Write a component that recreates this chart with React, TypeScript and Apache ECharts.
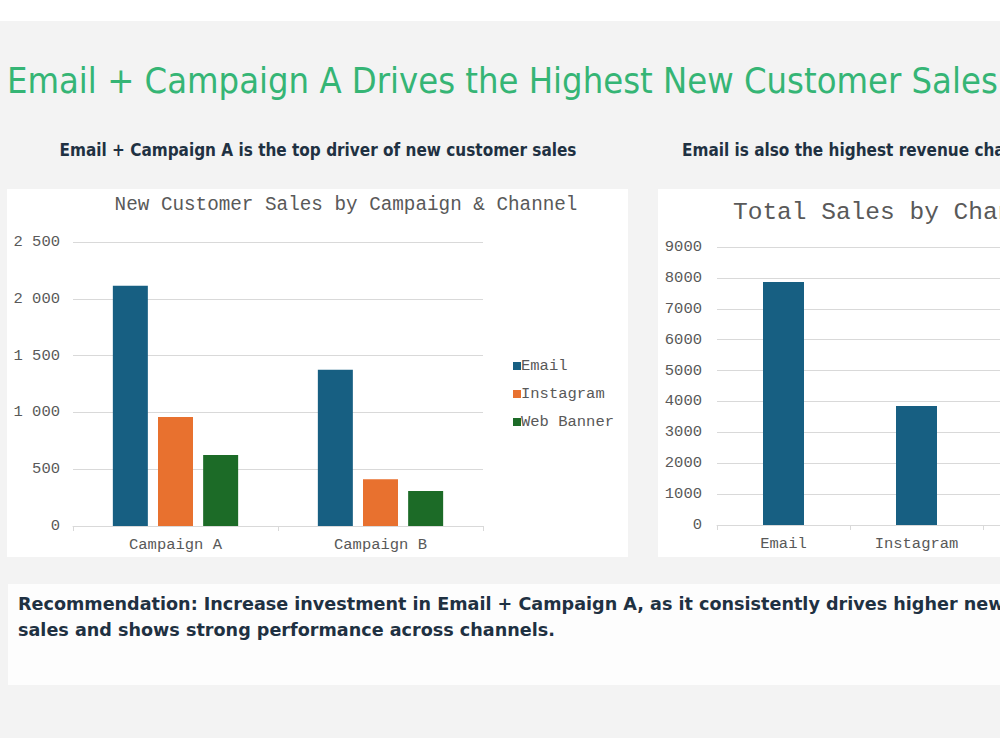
import React, { useEffect, useRef } from "react";
import * as echarts from "echarts";

// New customer sales, by campaign and channel
const campaigns = ["Campaign A", "Campaign B"];
const emailNew = [2115, 1375];
const instagramNew = [960, 412];
const webBannerNew = [625, 308];

// Total sales, by channel
const channels = ["Email", "Instagram", "Web Banner"];
const totalSales = [7870, 3850, 2900];

const pageTitle = "Email + Campaign A Drives the Highest New Customer Sales";
const leftHeading = "Email + Campaign A is the top driver of new customer sales";
const rightHeading = "Email is also the highest revenue channel";
const leftChartTitle = "New Customer Sales by Campaign & Channel";
const rightChartTitle = "Total Sales by Channel";
const recommendation = [
  "Recommendation: Increase investment in Email + Campaign A, as it consistently drives higher new customer",
  "sales and shows strong performance across channels.",
];

const BLUE = "#175f82";
const ORANGE = "#e8712f";
const GREEN = "#1c6b27";
const MONO = "'Liberation Mono', 'Courier New', monospace";
const CONDENSED = "'DejaVu Sans Condensed', 'DejaVu Sans', sans-serif";
const SANS = "'DejaVu Sans', sans-serif";
const AXIS_GRAY = "#d9d9d9";
const LABEL_GRAY = "#595959";
const HEADING = "#1f3142";

// Slide is wider than the visible window; the wrapper clips it at 1000px.
const SLIDE_W = 1200;

const spaced = (v: number) => String(v).replace(/\B(?=(\d{3})+(?!\d))/g, " ");

export default function App() {
  const ref = useRef<HTMLDivElement>(null);

  useEffect(() => {
    if (!ref.current) return;
    const chart = echarts.init(ref.current, null, { renderer: "svg" });

    const axisLabel = { fontFamily: MONO, fontSize: 15.5, color: LABEL_GRAY };

    chart.setOption({
      animation: false,
      backgroundColor: "#ffffff",
      graphic: [
        { type: "rect", z: -10, shape: { x: 0, y: 21, width: SLIDE_W, height: 717 }, style: { fill: "#f3f3f3" } },
        { type: "rect", z: -9, shape: { x: 7, y: 189, width: 621, height: 368 }, style: { fill: "#ffffff" } },
        { type: "rect", z: -9, shape: { x: 658, y: 189, width: 520, height: 368 }, style: { fill: "#ffffff" } },
        { type: "rect", z: -9, shape: { x: 8, y: 584, width: 1180, height: 101 }, style: { fill: "#fdfdfd" } },
        {
          type: "text", x: 7, y: 80,
          style: { text: pageTitle, fontFamily: CONDENSED, fontSize: 36, fill: "#35b575", verticalAlign: "middle" },
        },
        {
          type: "text", x: 318, y: 150,
          style: { text: leftHeading, fontFamily: CONDENSED, fontWeight: "bold", fontSize: 17, fill: HEADING, align: "center", verticalAlign: "middle" },
        },
        {
          type: "text", x: 682, y: 150,
          style: { text: rightHeading, fontFamily: CONDENSED, fontWeight: "bold", fontSize: 17, fill: HEADING, verticalAlign: "middle" },
        },
        {
          type: "text", x: 346, y: 205,
          style: { text: leftChartTitle, fontFamily: MONO, fontSize: 19.3, fill: LABEL_GRAY, align: "center", verticalAlign: "middle" },
        },
        {
          type: "text", x: 733, y: 212,
          style: { text: rightChartTitle, fontFamily: MONO, fontSize: 24.5, fill: LABEL_GRAY, verticalAlign: "middle" },
        },
        {
          type: "text", x: 18, y: 604,
          style: { text: recommendation[0], fontFamily: SANS, fontWeight: "bold", fontSize: 17.6, fill: HEADING, verticalAlign: "middle" },
        },
        {
          type: "text", x: 18, y: 630,
          style: { text: recommendation[1], fontFamily: SANS, fontWeight: "bold", fontSize: 17.6, fill: HEADING, verticalAlign: "middle" },
        },
      ],
      legend: {
        orient: "vertical",
        left: 508,
        top: 353,
        icon: "rect",
        itemWidth: 8,
        itemHeight: 8,
        itemGap: 12,
        data: ["Email", "Instagram", "Web Banner"],
        textStyle: { fontFamily: MONO, fontSize: 15.5, color: LABEL_GRAY, padding: [0, 0, 0, -5] },
      },
      grid: [
        { left: 73, top: 242, width: 410, height: 284 },
        { left: 717, top: 247, width: 399, height: 278 },
      ],
      xAxis: [
        {
          gridIndex: 0, type: "category", data: campaigns,
          axisLine: { lineStyle: { color: AXIS_GRAY } },
          axisTick: { show: true, length: 5, lineStyle: { color: AXIS_GRAY } },
          axisLabel: { ...axisLabel, margin: 11 },
        },
        {
          gridIndex: 1, type: "category", data: channels,
          axisLine: { lineStyle: { color: AXIS_GRAY } },
          axisTick: { show: true, length: 5, lineStyle: { color: AXIS_GRAY } },
          axisLabel: { ...axisLabel, margin: 11 },
        },
      ],
      yAxis: [
        {
          gridIndex: 0, type: "value", min: 0, max: 2500, interval: 500,
          axisLine: { show: false }, axisTick: { show: false },
          splitLine: { lineStyle: { color: AXIS_GRAY } },
          axisLabel: { ...axisLabel, margin: 13, formatter: (v: number) => spaced(v) },
        },
        {
          gridIndex: 1, type: "value", min: 0, max: 9000, interval: 1000,
          axisLine: { show: false }, axisTick: { show: false },
          splitLine: { lineStyle: { color: AXIS_GRAY } },
          axisLabel: { ...axisLabel, margin: 15, formatter: (v: number) => String(v) },
        },
      ],
      series: [
        { name: "Email", type: "bar", xAxisIndex: 0, yAxisIndex: 0, data: emailNew, barWidth: 35, barGap: "29%", itemStyle: { color: BLUE } },
        { name: "Instagram", type: "bar", xAxisIndex: 0, yAxisIndex: 0, data: instagramNew, barWidth: 35, barGap: "29%", itemStyle: { color: ORANGE } },
        { name: "Web Banner", type: "bar", xAxisIndex: 0, yAxisIndex: 0, data: webBannerNew, barWidth: 35, barGap: "29%", itemStyle: { color: GREEN } },
        { name: "Total Sales", type: "bar", xAxisIndex: 1, yAxisIndex: 1, data: totalSales, barWidth: 41, itemStyle: { color: BLUE } },
      ],
    });

    return () => chart.dispose();
  }, []);

  return (
    <div style={{ position: "absolute", left: 0, top: 0, width: 1000, height: 750, overflow: "hidden" }}>
      <div ref={ref} style={{ width: SLIDE_W, height: 750 }} />
    </div>
  );
}
